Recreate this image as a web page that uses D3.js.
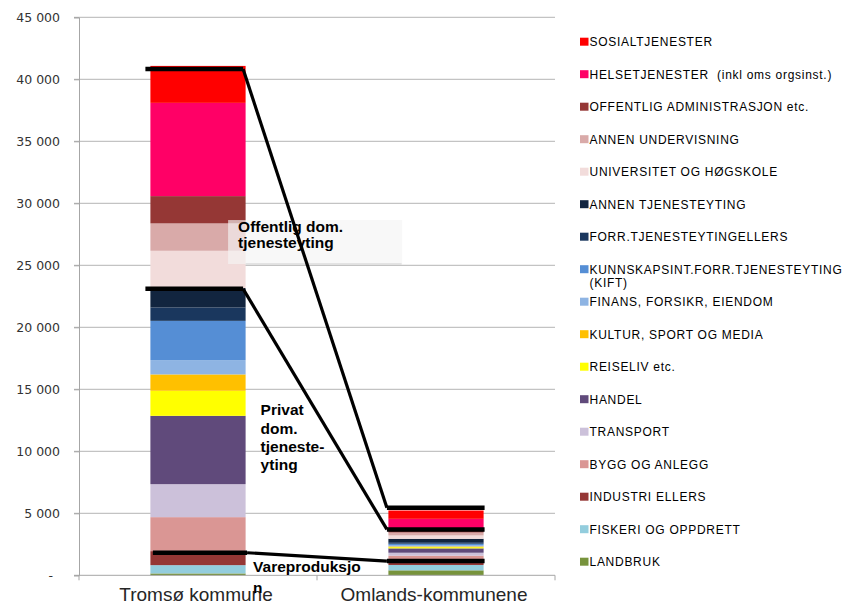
<!DOCTYPE html>
<html><head><meta charset="utf-8">
<script src="https://cdn.jsdelivr.net/npm/d3@7"></script>
<style>body{margin:0;background:#fff}svg{display:block}</style>
</head><body>
<svg id="c" width="857" height="615"></svg>
<script>
// ---- data ----
const categories = ["Tromsø kommune", "Omlands-kommunene"];
// stacking order: bottom -> top
const sectors = ["LANDBRUK","FISKERI OG OPPDRETT","INDUSTRI ELLERS","BYGG OG ANLEGG","TRANSPORT","HANDEL","REISELIV etc.","KULTUR, SPORT OG MEDIA","FINANS, FORSIKR, EIENDOM","KUNNSKAPSINT.FORR.TJENESTEYTING\n(KIFT)","FORR.TJENESTEYTING ELLERS","ANNEN TJENESTEYTING","UNIVERSITET OG HØGSKOLE","ANNEN UNDERVISNING","OFFENTLIG ADMINISTRASJON etc.","HELSETJENESTER  (inkl omsorgsinst.)","SOSIALTJENESTER"];
const legendLabels = ["LANDBRUK","FISKERI OG OPPDRETT","INDUSTRI ELLERS","BYGG OG ANLEGG","TRANSPORT","HANDEL","REISELIV etc.","KULTUR, SPORT OG MEDIA","FINANS, FORSIKR, EIENDOM","KUNNSKAPSINT.FORR.TJENESTEYTING\n(KIFT)","FORR.TJENESTEYTINGELLERS","ANNEN TJENESTEYTING","UNIVERSITET OG HØGSKOLE","ANNEN UNDERVISNING","OFFENTLIG ADMINISTRASJON etc.","HELSETJENESTER  (inkl oms orgsinst.)","SOSIALTJENESTER"];
const tromsoValues  = [150, 670, 1130, 2740, 2660, 5510, 2020, 1320, 1150, 3170, 1080, 1560, 3010, 2210, 2200, 7520, 2980];
const omlandValues  = [400, 430, 320, 430, 240, 350, 100, 60, 80, 135, 130, 270, 270, 240, 160, 940, 670];
const colors = ["#77933C","#93CDDD","#953735","#DA9694","#CCC1DA","#604A7B","#FFFF00","#FFC000","#8EB4E3","#558ED5","#1A375E","#12253F","#F2DCDB","#D9AAA9","#953735","#FF0066","#FF0000"];
const yTicks = [0, 5000, 10000, 15000, 20000, 25000, 30000, 35000, 40000, 45000];
// annotation line levels (value units)
const lineLevelsTromso = [40830, 23100, 1820];
const lineLevelsOmland = [5450, 3700, 1150];

// ---- chart ----
const svg = d3.select("#c");
const y = d3.scaleLinear().domain([0, 45000]).range([575.3, 17.3]);
const x = d3.scaleBand().domain(categories).range([79, 555]).paddingInner(0.6).paddingOuter(0.3);
const fmt = v => v === 0 ? "-" : d3.format(",")(v).replace(/,/g, " ");

// gridlines
svg.append("g").selectAll("line").data(yTicks.filter(d => d > 0)).join("line")
  .attr("x1", 74).attr("x2", 555).attr("y1", d => y(d)).attr("y2", d => y(d))
  .attr("stroke", "#b4b4b4").attr("stroke-width", 1);

// y axis
const yAxis = svg.append("g").attr("transform", "translate(79,0)")
  .call(d3.axisLeft(y).tickValues(yTicks).tickSize(5).tickPadding(14).tickFormat(fmt));
yAxis.select(".domain").attr("stroke", "#a6a6a6");
yAxis.selectAll(".tick line").attr("stroke", "#a6a6a6");
yAxis.selectAll("text").attr("font-family", "DejaVu Sans").attr("font-size", "12.5px").attr("fill", "#333")
  .attr("dx", d => d === 0 ? -7 : 0);

// stacked bars
const rows = categories.map((c, i) => {
  const r = {cat: c};
  sectors.forEach((s, j) => r[s] = (i === 0 ? tromsoValues : omlandValues)[j]);
  return r;
});
const stack = d3.stack().keys(sectors)(rows);
svg.append("g").selectAll("g").data(stack).join("g")
  .attr("fill", (d, i) => colors[i])
  .selectAll("rect").data(d => d).join("rect")
  .attr("x", d => x(d.data.cat)).attr("width", x.bandwidth())
  .attr("y", d => y(d[1])).attr("height", d => y(d[0]) - y(d[1]));

// x axis
const xAxisG = svg.append("g").attr("transform", "translate(0,575.3)");
xAxisG.append("line").attr("x1", 74).attr("x2", 555).attr("y1", 0).attr("y2", 0).attr("stroke", "#a6a6a6");
const step = x.step();
xAxisG.selectAll("line.t").data([79, 79 + step, 79 + 2 * step]).join("line").attr("class", "t")
  .attr("x1", d => d).attr("x2", d => d).attr("y1", 0).attr("y2", 5).attr("stroke", "#a6a6a6");
xAxisG.selectAll("text").data(categories).join("text")
  .attr("x", d => x(d) + x.bandwidth() / 2 - 2).attr("y", 25.5)
  .attr("text-anchor", "middle").attr("font-family", "Liberation Sans, Arial").attr("font-size", "19px")
  .attr("fill", "#262626").text(d => d);

// annotation boxes
const xT = x(categories[0]), xO = x(categories[1]), bw = x.bandwidth();
svg.append("rect").attr("x", xT + bw - 17.5).attr("y", y(28650)).attr("width", 174).attr("height", y(25100) - y(28650))
  .attr("fill", "#f4f4f4").attr("fill-opacity", 0.65);
svg.append("line").attr("x1", xT + bw).attr("x2", xT + bw + 156).attr("y1", y(25100)).attr("y2", y(25100))
  .attr("stroke", "#dcdcdc").attr("stroke-width", 1.5);
svg.append("rect").attr("x", xT + bw + 0.5).attr("y", y(1500)).attr("width", 141).attr("height", y(80) - y(1500))
  .attr("fill", "#fff");

// annotation lines
const lineGen = d3.line();
lineLevelsTromso.forEach((lv, i) => {
  const lo = lineLevelsOmland[i];
  const startX = i === 2 ? xT + 2.5 : xT - 5;
  const bendX = i === 2 ? xT + bw + 1.5 : xT + bw - 2.5;
  svg.append("path").attr("d", lineGen([[startX, y(lv)], [bendX, y(lv)]]))
    .attr("stroke", "#000").attr("stroke-width", 4.5).attr("fill", "none");
  svg.append("path").attr("d", lineGen([[bendX, y(lv)], [xO - 1.5, y(lo)]]))
    .attr("stroke", "#000").attr("stroke-width", 3.2).attr("fill", "none");
  svg.append("path").attr("d", lineGen([[xO - 1.5, y(lo)], [xO + bw + 1, y(lo)]]))
    .attr("stroke", "#000").attr("stroke-width", 4.5).attr("fill", "none");
});

// annotation texts
const annot = (lines, x0, y0, dy) => {
  const t = svg.append("text").attr("font-family", "Liberation Sans, Arial").attr("font-weight", "bold")
    .attr("font-size", "15.5px").attr("fill", "#000");
  lines.forEach((l, i) => t.append("tspan").attr("x", x0).attr("y", y0 + i * dy).text(l));
};
annot(["Offentlig dom.", "tjenesteyting"], xT + bw - 7.5, y(27720), 16.7);
annot(["Privat", "dom.", "tjeneste-", "yting"], xT + bw + 15, y(12900), 18.3);
annot(["Vareproduksjo", "n"], xT + bw + 7.5, y(250), 20.7);

// legend (top item = last sector)
const legItems = sectors.map((s, i) => ({label: legendLabels[i], color: colors[i]})).reverse();
const lg = svg.append("g");
legItems.forEach((d, i) => {
  const cy = 41.7 + i * 32.5;
  lg.append("rect").attr("x", 580).attr("y", cy - 4).attr("width", 8.5).attr("height", 8).attr("fill", d.color);
  const t = lg.append("text").attr("font-family", "Liberation Sans, Arial").attr("font-size", "12px")
    .attr("fill", "#000").attr("letter-spacing", "0.72px").style("white-space", "pre");
  d.label.split("\n").forEach((l, k) => t.append("tspan").attr("x", 589.5).attr("y", cy + 4.3 + k * 13.4).text(l));
});
</script>
</body></html>
